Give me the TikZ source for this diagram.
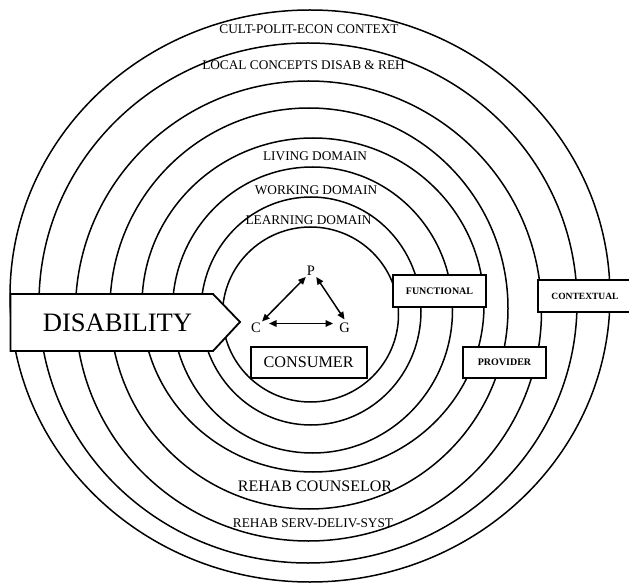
\documentclass[tikz,border=0pt]{standalone}
\usepackage{fontspec}
\setmainfont{Liberation Serif}
\usetikzlibrary{arrows.meta}
\begin{document}
\begin{tikzpicture}[x=1pt,y=-1pt,
  ring/.style={line width=1.5pt},
  tag/.style={font=\fontsize{13.3}{15}\selectfont, inner sep=0pt},
  bigtag/.style={font=\fontsize{16}{18}\selectfont, inner sep=0pt},
  box/.style={draw, line width=1.8pt, fill=white, inner sep=0pt},
  smallbox/.style={box, font=\bfseries\fontsize{10}{12}\selectfont},
  vertex/.style={font=\fontsize{14.5}{16}\selectfont, inner sep=1pt},
  link/.style={line width=1.5pt, {Triangle[length=7.5pt,width=6.5pt]}-{Triangle[length=7.5pt,width=6.5pt]}}
]
\fill[white] (0,0) rectangle (629,585);
\useasboundingbox (0,0) rectangle (629,585);

% nested rings, outermost first
\draw[ring] (310,296)   ellipse [x radius=300pt, y radius=286pt];
\draw[ring] (308,303)   ellipse [x radius=269pt, y radius=260pt];
\draw[ring] (308.5,311) ellipse [x radius=233pt, y radius=230pt];
\draw[ring] (309,308.5) ellipse [x radius=199pt, y radius=200.5pt];
\draw[ring] (313,305)   ellipse [x radius=171pt, y radius=167pt];
\draw[ring] (312.5,310) ellipse [x radius=140pt, y radius=143pt];
\draw[ring] (311,311)   ellipse [x radius=110pt, y radius=114pt];
\draw[ring] (310.5,314.5) ellipse [x radius=88pt, y radius=87.5pt];

% ring labels
\node[tag] (cult)  at (309,29)    {CULT-POLIT-ECON CONTEXT};
\node[tag] (local) at (303.5,65.5){LOCAL CONCEPTS DISAB \& REH};
\node[tag] (live)  at (315,156)   {LIVING DOMAIN};
\node[tag] (work)  at (316,190.5) {WORKING DOMAIN};
\node[tag] (learn) at (308.5,220) {LEARNING DOMAIN};
\node[bigtag] (couns) at (315,486.5) {REHAB COUNSELOR};
\node[tag] (serv)  at (313,523)   {REHAB SERV-DELIV-SYST};

% disability arrow
\draw[line width=1.8pt, fill=white, line join=miter]
  (10.5,294) -- (213,294) -- (240,322) -- (213,351) -- (10.5,351) -- cycle;
\node[font=\fontsize{26.6}{30}\selectfont, inner sep=0pt] (dis) at (117.5,323) {DISABILITY};

% perspective boxes
\node[smallbox, minimum width=93pt, minimum height=32pt] (func) at (439.5,291) {FUNCTIONAL};
\node[smallbox, minimum width=94pt, minimum height=32pt, font=\bfseries\fontsize{9.5}{12}\selectfont] (ctx) at (585,296) {CONTEXTUAL};
\node[smallbox, minimum width=83pt, minimum height=31pt] (prov) at (504.5,362.5) {PROVIDER};
\node[box, minimum width=116pt, minimum height=31.6pt, font=\fontsize{16.2}{18}\selectfont] (cons) at (308.7,362.5) {CONSUMER};

% core triangle
\node[vertex] (P) at (311,271)   {P};
\node[vertex] (C) at (256,327.5) {C};
\node[vertex] (G) at (344.5,327.5) {G};
\draw[link] (C.north east) -- (P.south west);
\draw[link] (P.south east) -- ([yshift=2pt]G.north);
\draw[link, shorten <=7pt, shorten >=5pt] ([yshift=4pt]C.east) -- ([yshift=4pt]G.west);
\end{tikzpicture}
\end{document}
